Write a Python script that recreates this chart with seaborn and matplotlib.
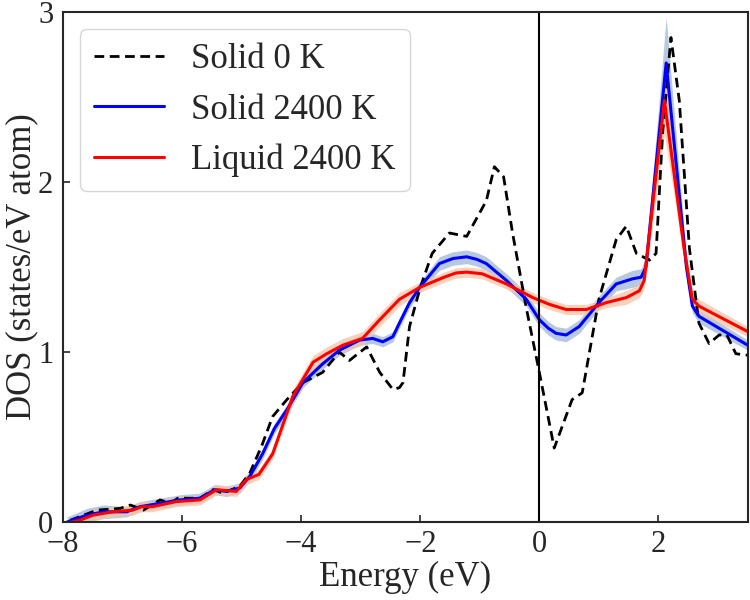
"""DOS of solid and liquid at 0 K / 2400 K"""
import matplotlib
matplotlib.use("Agg")
import matplotlib.pyplot as plt
import pandas as pd
import seaborn as sns

# Solid 0 K (dashed)
e_solid0 = [-7.88, -7.43, -7.04, -6.87, -6.65, -6.37, -6.20, -6.07, -5.70, -5.48,
            -5.31, -5.03, -4.86, -4.66, -4.48, -4.24, -3.97, -3.64, -3.36, -3.19,
            -2.90, -2.68, -2.46, -2.35, -2.29, -2.18, -2.00, -1.80, -1.51, -1.22,
            -0.89, -0.755, -0.60, -0.45, -0.22, 0.00, 0.25, 0.55, 0.72, 1.00,
            1.29, 1.46, 1.63, 1.85, 1.96, 2.07, 2.21, 2.35, 2.52, 2.68,
            2.85, 3.02, 3.15, 3.30, 3.52]
dos_solid0 = [0.01, 0.07, 0.08, 0.10, 0.07, 0.13, 0.11, 0.14, 0.14, 0.19,
              0.17, 0.21, 0.29, 0.45, 0.62, 0.72, 0.82, 0.88, 1.00, 0.95,
              1.03, 0.88, 0.78, 0.79, 0.82, 1.15, 1.38, 1.58, 1.70, 1.68,
              1.89, 2.09, 2.03, 1.70, 1.26, 0.88, 0.435, 0.72, 0.76, 1.31,
              1.66, 1.74, 1.58, 1.54, 1.58, 2.29, 2.85, 2.48, 1.61, 1.17,
              1.05, 1.10, 1.10, 0.99, 0.98]

# Solid 2400 K
e_solid = [-7.93, -7.60, -7.32, -6.93, -6.71, -6.37, -6.04, -5.70, -5.45, -5.26,
           -5.03, -4.86, -4.65, -4.45, -4.24, -3.97, -3.64, -3.36, -3.02, -2.80,
           -2.63, -2.46, -2.35, -2.18, -2.01, -1.68, -1.45, -1.22, -1.05, -0.89,
           -0.55, -0.22, 0.00, 0.15, 0.28, 0.45, 0.67, 1.00, 1.29, 1.56,
           1.71, 1.79, 2.13, 2.47, 2.57, 2.68, 3.50]
dos_solid = [0.00, 0.04, 0.06, 0.06, 0.09, 0.11, 0.13, 0.14, 0.19, 0.18,
             0.20, 0.27, 0.40, 0.55, 0.66, 0.82, 0.93, 1.01, 1.07, 1.08,
             1.06, 1.09, 1.17, 1.29, 1.38, 1.52, 1.55, 1.56, 1.545, 1.52,
             1.42, 1.31, 1.19, 1.14, 1.11, 1.10, 1.15, 1.29, 1.40, 1.43,
             1.44, 1.50, 2.70, 1.50, 1.27, 1.21, 1.04]
err_solid = [0.03, 0.04, 0.04, 0.03, 0.03, 0.03, 0.03, 0.03, 0.03, 0.03,
             0.03, 0.03, 0.03, 0.03, 0.03, 0.03, 0.03, 0.03, 0.03, 0.03,
             0.03, 0.03, 0.03, 0.03, 0.03, 0.04, 0.04, 0.04, 0.04, 0.04,
             0.04, 0.04, 0.04, 0.04, 0.04, 0.04, 0.04, 0.04, 0.04, 0.05,
             0.05, 0.06, 0.27, 0.06, 0.04, 0.04, 0.03]

# Liquid 2400 K
e_liquid = [-7.85, -7.72, -7.50, -7.16, -6.83, -6.68, -6.50, -6.10, -5.70, -5.42,
            -5.09, -4.92, -4.71, -4.48, -4.14, -3.80, -3.57, -3.30, -2.97, -2.68,
            -2.35, -2.01, -1.60, -1.40, -1.22, -0.96, -0.55, -0.11, 0.17, 0.45,
            0.79, 1.12, 1.46, 1.68, 1.76, 2.10, 2.43, 2.57, 2.68, 3.50]
dos_liquid = [0.00, 0.01, 0.04, 0.06, 0.07, 0.09, 0.09, 0.12, 0.13, 0.19,
              0.18, 0.25, 0.28, 0.40, 0.74, 0.94, 0.99, 1.04, 1.08, 1.19,
              1.31, 1.38, 1.44, 1.465, 1.47, 1.46, 1.40, 1.32, 1.28, 1.25,
              1.25, 1.29, 1.32, 1.36, 1.42, 2.48, 1.61, 1.31, 1.27, 1.12]
err_liquid = [0.03, 0.03, 0.03, 0.03, 0.03, 0.03, 0.03, 0.03, 0.03, 0.03,
              0.03, 0.03, 0.03, 0.03, 0.04, 0.04, 0.04, 0.04, 0.04, 0.04,
              0.04, 0.03, 0.03, 0.03, 0.03, 0.03, 0.03, 0.03, 0.03, 0.03,
              0.03, 0.03, 0.04, 0.04, 0.05, 0.20, 0.06, 0.04, 0.04, 0.03]

sns.set_style("ticks")
plt.rcParams["font.family"] = ["Liberation Serif", "DejaVu Serif"]
plt.rcParams["mathtext.fontset"] = "stix"

fig, ax = plt.subplots(figsize=(7.5, 6), dpi=100)
fig.subplots_adjust(left=0.084, right=0.997, top=0.98, bottom=0.13)

lo = [y - e for y, e in zip(dos_solid, err_solid)]
hi = [y + e for y, e in zip(dos_solid, err_solid)]
ax.fill_between(e_solid, lo, hi, color="#b0c4de", alpha=0.9, lw=0)
lo = [y - e for y, e in zip(dos_liquid, err_liquid)]
hi = [y + e for y, e in zip(dos_liquid, err_liquid)]
ax.fill_between(e_liquid, lo, hi, color="#f7c4a5", alpha=0.75, lw=0)

sns.lineplot(x=e_solid0, y=dos_solid0, ax=ax, color="black", lw=2,
             linestyle=(0, (3.5, 2)), label="Solid 0 K", sort=False)
sns.lineplot(x=e_solid, y=dos_solid, ax=ax, color="blue", lw=2.2,
             label="Solid 2400 K", sort=False)
sns.lineplot(x=e_liquid, y=dos_liquid, ax=ax, color="red", lw=2.2,
             label="Liquid 2400 K", sort=False)

ax.axvline(0, color="black", lw=1.5)
ax.set_xlim(-8, 3.5)
ax.set_ylim(0, 3)
ax.set_xticks([-8, -6, -4, -2, 0, 2])
ax.set_yticks([0, 1, 2, 3])
ax.tick_params(direction="in", labelsize=22, length=5, width=1.2)
ax.tick_params(axis="x", pad=6)
ax.tick_params(axis="y", pad=7)
for s in ax.spines.values():
    s.set_linewidth(1.5)
ax.set_xlabel("Energy (eV)", fontsize=25, labelpad=1)
ax.set_ylabel("DOS (states/eV atom)", fontsize=25, labelpad=0)
ax.legend(loc="upper left", fontsize=25, handlelength=2.0, frameon=True)

fig.savefig("out.png", dpi=100)
